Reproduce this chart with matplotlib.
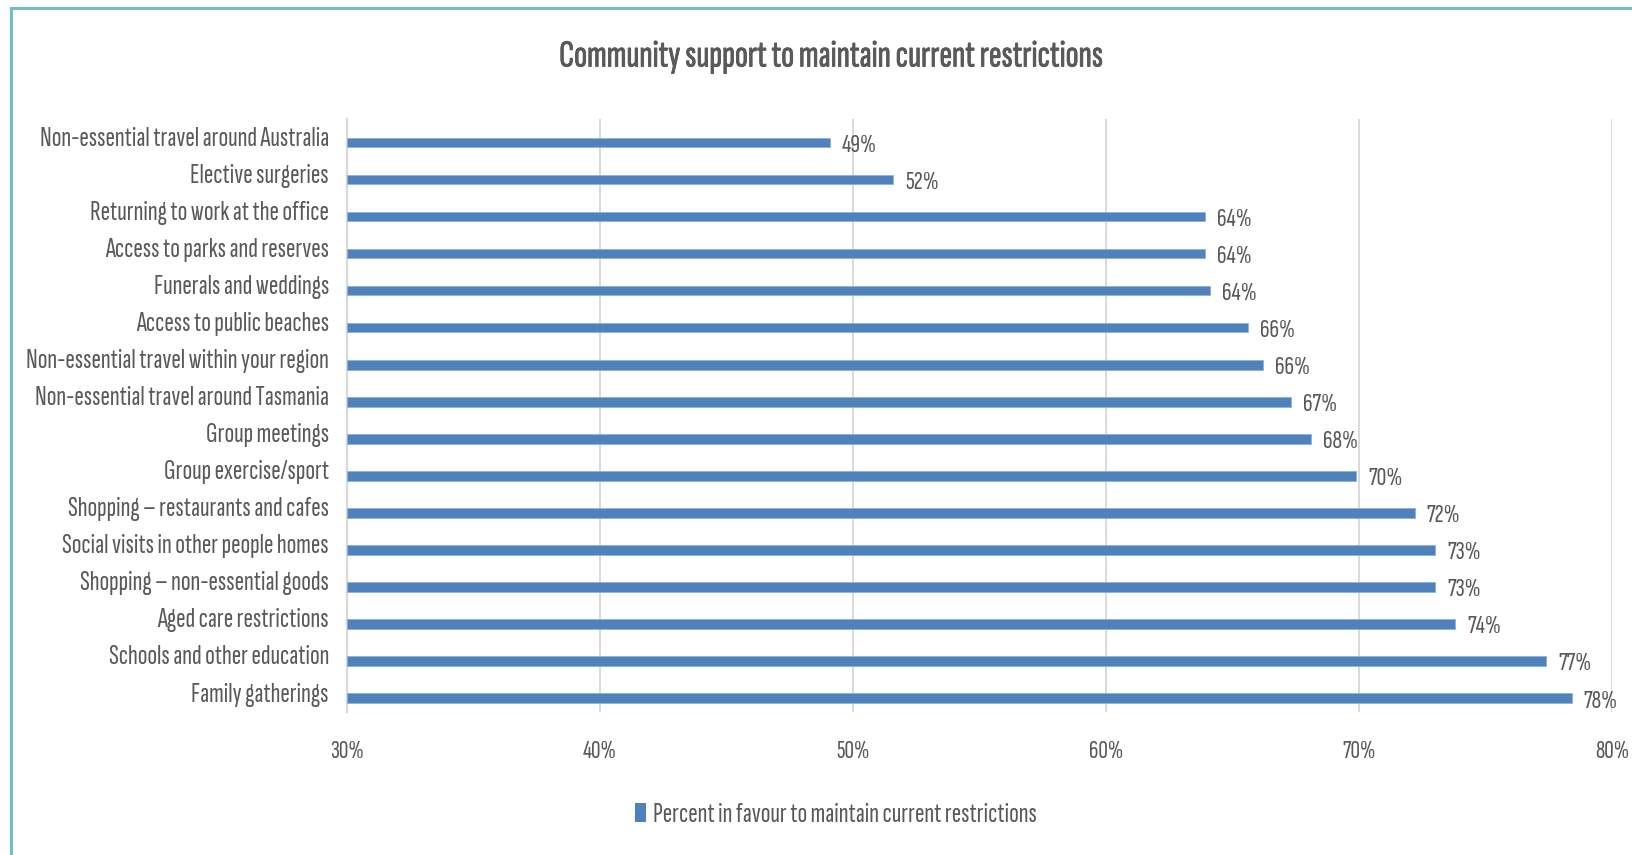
import matplotlib
matplotlib.use("Agg")
import matplotlib.pyplot as plt
import matplotlib.patheffects as pe
from matplotlib.lines import Line2D
from matplotlib.patches import Rectangle
from matplotlib.ticker import FuncFormatter, MultipleLocator
from matplotlib.transforms import ScaledTranslation

# Survey results: share of respondents in favour of keeping each restriction (%)
categories = [
    "Non-essential travel around Australia",
    "Elective surgeries",
    "Returning to work at the office",
    "Access to parks and reserves",
    "Funerals and weddings",
    "Access to public beaches",
    "Non-essential travel within your region",
    "Non-essential travel around Tasmania",
    "Group meetings",
    "Group exercise/sport",
    "Shopping \u2013 restaurants and cafes",
    "Social visits in other people homes",
    "Shopping \u2013 non-essential goods",
    "Aged care restrictions",
    "Schools and other education",
    "Family gatherings",
]
values = [49.1, 51.6, 63.9, 63.9, 64.1, 65.6, 66.2, 67.3, 68.1, 69.9,
          72.2, 73.0, 73.0, 73.8, 77.4, 78.4]
series_name = "Percent in favour to maintain current restrictions"
title = "Community support to maintain current restrictions"
x_min, x_max, x_step = 30, 80, 10

FONT = ["Sofia Sans Extra Condensed", "Pathway Gothic One", "DejaVu Sans"]
TEXT = "#595959"
BAR = "#4F81BD"
GRID = "#D9D9D9"

W, H = 1633, 855
fig = plt.figure(figsize=(W / 100, H / 100), dpi=100)
fig.patch.set_facecolor("white")

ax = fig.add_axes([347 / W, 1 - 712 / H, (1612 - 347) / W, (712 - 119) / H])
ypos = list(range(len(categories)))
ax.barh(ypos, [v - x_min for v in values], left=x_min, height=0.26,
        color=BAR, edgecolor="#8FB0DA", linewidth=0.6, zorder=3)

ax.set_xlim(x_min, x_max)
ax.set_ylim(len(categories) - 1 + 0.378, -0.635)
ax.xaxis.set_major_locator(MultipleLocator(x_step))
ax.xaxis.set_major_formatter(FuncFormatter(lambda v, p: f"{v:.0f}%"))
ax.set_yticks(ypos)
ax.set_yticklabels(categories)
ax.grid(axis="x", color=GRID, linewidth=1.4, zorder=0)
ax.set_axisbelow(True)
for s in ["top", "right", "bottom"]:
    ax.spines[s].set_visible(False)
ax.spines["left"].set_color(GRID)
ax.spines["left"].set_linewidth(1.6)
ax.tick_params(axis="both", length=0, colors=TEXT)
ax.tick_params(axis="x", pad=20)
ax.tick_params(axis="y", pad=13)
for lab in ax.get_xticklabels():
    lab.set_family(FONT)
    lab.set_fontsize(19)
    lab.set_fontweight("light")
# category labels sit a little above their bars
lift = ScaledTranslation(0, 6 / 100, fig.dpi_scale_trans)
for lab in ax.get_yticklabels():
    lab.set_family(FONT)
    lab.set_fontsize(20.5)
    lab.set_fontweight("light")
    lab.set_transform(lab.get_transform() + lift)

for y, v in zip(ypos, values):
    ax.annotate(f"{round(v)}%", xy=(v, y), xytext=(12, -3), textcoords="offset pixels",
                ha="left", va="center", color=TEXT, fontsize=19.5, family=FONT,
                fontweight="light")

fig.text(832 / W, 1 - 57 / H, title, ha="center", va="center", color=TEXT,
         fontsize=27.5, fontweight="bold", family=FONT,
         path_effects=[pe.withStroke(linewidth=0.6, foreground=TEXT)])

handle = Rectangle((0, 0), 1, 1, facecolor=BAR, edgecolor="none")
fig.legend([handle], [series_name], loc="center", bbox_to_anchor=(836 / W, 1 - 815 / H),
           frameon=False, prop={"family": FONT, "size": 20.5, "weight": "light"},
           labelcolor=TEXT, handlelength=0.38, handleheight=0.65, handletextpad=0.25)

# light-blue chart border (left and top edges)
fig.add_artist(Line2D([11 / W, 11 / W], [0, 1 - 8 / H], color="#72BCCE", linewidth=2.2,
                      transform=fig.transFigure))
fig.add_artist(Line2D([11 / W, 1], [1 - 8 / H, 1 - 8 / H], color="#72BCCE", linewidth=2.2,
                      transform=fig.transFigure))

fig.savefig("out.png", dpi=100)
